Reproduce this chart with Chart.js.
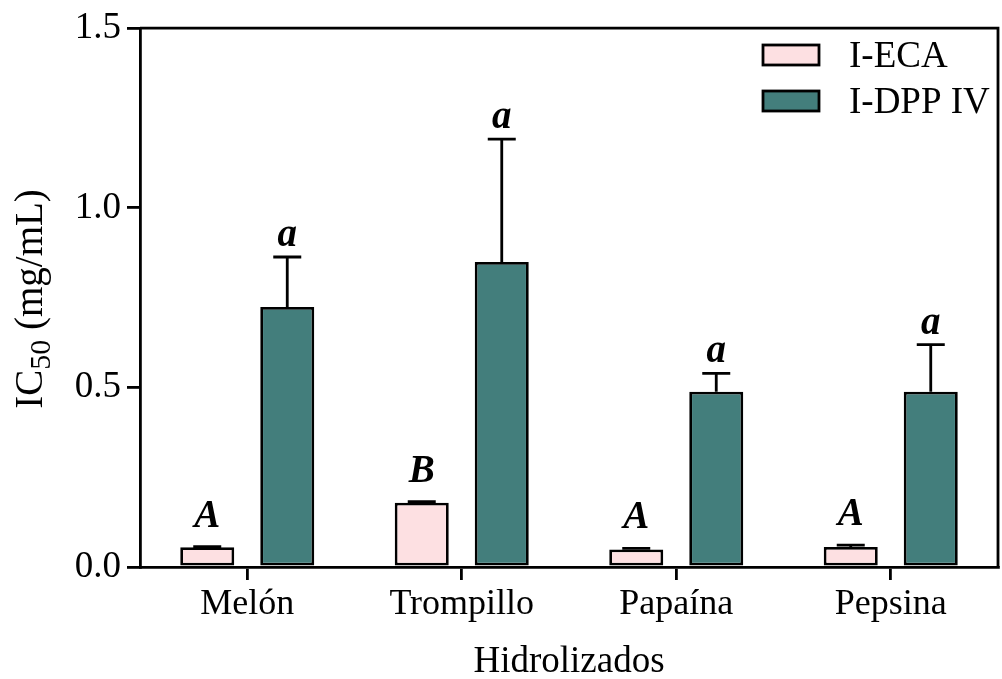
<!DOCTYPE html>
<html>
<head>
<meta charset="utf-8">
<script src="https://cdn.jsdelivr.net/npm/chart.js@4.4.1/dist/chart.umd.min.js"></script>
<style>
  html, body { margin: 0; padding: 0; background: #fff; }
  #wrap { width: 1002px; height: 679px; position: relative; }
</style>
</head>
<body>
<div id="wrap"><canvas id="c"></canvas></div>
<script>
// Hydrolysate IC50 values (mg/mL) with standard deviations and significance letters
const categories = ['Melón', 'Trompillo', 'Papaína', 'Pepsina'];
const ecaValues = [0.055, 0.179, 0.049, 0.056];
const ecaErrors = [0.002, 0.003, 0.003, 0.005];
const ecaLetters = ['A', 'B', 'A', 'A'];
const dppValues = [0.724, 0.849, 0.488, 0.488];
const dppErrors = [0.139, 0.342, 0.051, 0.131];
const dppLetters = ['a', 'a', 'a', 'a'];
const seriesNames = ['I-ECA', 'I-DPP IV'];
const yTicks = [0, 0.5, 1.0, 1.5];

const SERIF = "'Liberation Serif', 'Times New Roman', serif";
const INK = '#000';
const LW = 2.8;
const colECA = '#FDE0E2';
const colDPP = '#437E7C';

// error bars (upper only) and letters above them
const errorBarPlugin = {
  id: 'errorBars',
  afterDatasetsDraw(chart) {
    const ctx = chart.ctx;
    const y = chart.scales.y;
    chart.data.datasets.forEach((ds, i) => {
      const meta = chart.getDatasetMeta(i);
      meta.data.forEach((el, j) => {
        const top = y.getPixelForValue(ds.data[j] + ds.errors[j]);
        ctx.save();
        ctx.strokeStyle = INK;
        ctx.lineWidth = LW;
        ctx.beginPath();
        ctx.moveTo(el.x, el.y);
        ctx.lineTo(el.x, top);
        ctx.moveTo(el.x - 14, top);
        ctx.lineTo(el.x + 14, top);
        ctx.stroke();
        ctx.fillStyle = INK;
        ctx.font = 'italic bold 39px ' + SERIF;
        ctx.textAlign = 'center';
        ctx.textBaseline = 'alphabetic';
        ctx.fillText(ds.letters[j], el.x, top - ds.letterGap);
        ctx.restore();
      });
    });
  }
};

// frame, axis titles and legend
const decorPlugin = {
  id: 'decor',
  afterDraw(chart) {
    const ctx = chart.ctx;
    const a = chart.chartArea;
    ctx.save();
    ctx.strokeStyle = INK;
    ctx.lineWidth = LW;
    ctx.beginPath();
    ctx.moveTo(a.left, a.top);
    ctx.lineTo(a.right, a.top);
    ctx.lineTo(a.right, a.bottom);
    ctx.stroke();

    // x title
    ctx.fillStyle = INK;
    ctx.font = '37px ' + SERIF;
    ctx.textAlign = 'center';
    ctx.textBaseline = 'alphabetic';
    ctx.fillText('Hidrolizados', (a.left + a.right) / 2, 672);

    // y title with subscript
    const big = '39px ' + SERIF, small = '30px ' + SERIF;
    const parts = [['IC', big, 0], ['50', small, 8], [' (mg/mL)', big, 0]];
    let total = 0;
    parts.forEach(p => { ctx.font = p[1]; total += ctx.measureText(p[0]).width; });
    ctx.translate(42, 299);
    ctx.rotate(-Math.PI / 2);
    ctx.textAlign = 'left';
    let x = -total / 2;
    parts.forEach(p => {
      ctx.font = p[1];
      ctx.fillText(p[0], x, p[2]);
      x += ctx.measureText(p[0]).width;
    });
    ctx.restore();

    // legend
    ctx.save();
    const rows = [[colECA, seriesNames[0], 45], [colDPP, seriesNames[1], 91]];
    rows.forEach(r => {
      ctx.fillStyle = r[0];
      ctx.fillRect(763, r[2], 56, 20);
      ctx.strokeStyle = INK;
      ctx.lineWidth = LW;
      ctx.strokeRect(763, r[2], 56, 20);
      ctx.fillStyle = INK;
      ctx.font = '37px ' + SERIF;
      ctx.textAlign = 'left';
      ctx.textBaseline = 'alphabetic';
      ctx.fillText(r[1], 849, r[2] + 22);
    });
    ctx.restore();
  }
};

new Chart(document.getElementById('c'), {
  type: 'bar',
  data: {
    labels: categories,
    datasets: [
      {
        label: seriesNames[0], data: ecaValues, errors: ecaErrors, letters: ecaLetters, letterGap: 20,
        backgroundColor: colECA, borderColor: INK, borderWidth: LW, borderSkipped: false
      },
      {
        label: seriesNames[1], data: dppValues, errors: dppErrors, letters: dppLetters, letterGap: 11,
        backgroundColor: colDPP, borderColor: INK, borderWidth: LW, borderSkipped: false
      }
    ]
  },
  options: {
    responsive: true,
    maintainAspectRatio: false,
    animation: false,
    categoryPercentage: 0.746,
    barPercentage: 0.675,
    layout: { padding: { top: 28, right: 4, left: 0, bottom: 0 } },
    plugins: { legend: { display: false }, tooltip: { enabled: false } },
    scales: {
      x: {
        offset: true,
        grid: { offset: false, drawOnChartArea: false, drawTicks: true, tickLength: 13, color: INK, lineWidth: LW },
        border: { display: true, color: INK, width: LW },
        ticks: { color: INK, font: { family: SERIF, size: 36 }, padding: 3, maxRotation: 0 },
        afterFit(s) { s.height = 112; }
      },
      y: {
        min: 0, max: 1.5,
        afterBuildTicks(s) { s.ticks = yTicks.map(v => ({ value: v })); },
        grid: { drawOnChartArea: false, drawTicks: true, tickLength: 13, color: INK, lineWidth: LW },
        border: { display: true, color: INK, width: LW },
        ticks: { color: INK, font: { family: SERIF, size: 37 }, padding: 6, callback: v => Number(v).toFixed(1) },
        afterFit(s) { s.width = 140; }
      }
    }
  },
  plugins: [errorBarPlugin, decorPlugin]
});
</script>
</body>
</html>
